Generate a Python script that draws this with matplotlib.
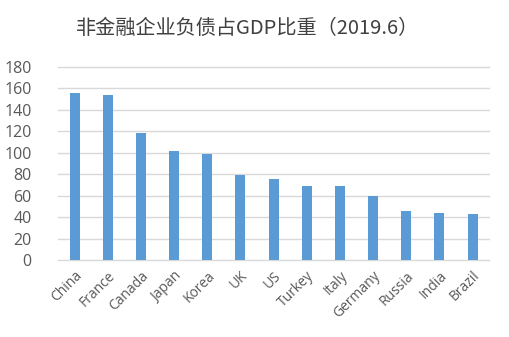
import matplotlib
matplotlib.use("Agg")
import matplotlib.pyplot as plt

countries = ["China", "France", "Canada", "Japan", "Korea", "UK", "US",
             "Turkey", "Italy", "Germany", "Russia", "India", "Brazil"]
ratio = [155.2, 153.6, 118.5, 101.8, 98.7, 79.1, 75.1, 69.2, 69.2, 59.6, 45.3, 43.7, 42.5]
y_ticks = [0, 20, 40, 60, 80, 100, 120, 140, 160, 180]

plt.rcParams['font.family'] = ['Open Sans', 'Noto Sans CJK SC', 'DejaVu Sans']
text_color = "#595959"

fig = plt.figure(figsize=(5.09, 3.37), dpi=100)
ax = fig.add_axes([0.114, 0.2285, 0.847, 0.573])

x = range(len(countries))
ax.bar(x, ratio, width=0.3, color="#5B9BD5", zorder=3)

ax.set_xlim(-0.5, len(countries) - 0.5)
ax.set_ylim(0, 180)
ax.set_yticks(y_ticks)
ax.set_yticklabels([str(v) for v in y_ticks], fontsize=11.5, color=text_color)
ax.set_xticks(list(x))
ax.set_xticklabels(countries, rotation=45, ha="right", rotation_mode="anchor",
                   fontsize=10, color=text_color)
ax.tick_params(axis="both", length=0)
ax.tick_params(axis="y", pad=19)
ax.tick_params(axis="x", pad=6)

for v in y_ticks:
    ax.axhline(v, color="#D9D9D9", linewidth=1, zorder=1, clip_on=False)
for s in ax.spines.values():
    s.set_visible(False)

fig.text(0.486, 0.915, "非金融企业负债占GDP比重（2019.6）", ha="center", va="center",
         fontsize=14.5, color="#404040", family=['Noto Sans CJK SC', 'DejaVu Sans'])

fig.savefig("out.png", dpi=100)
